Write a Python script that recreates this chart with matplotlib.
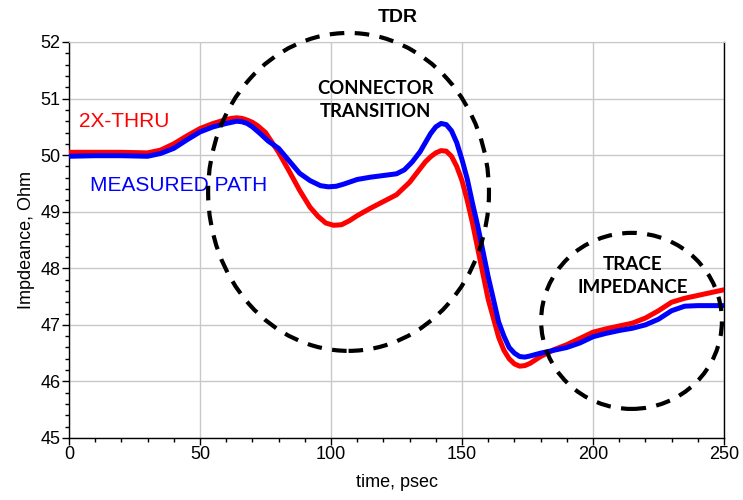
import matplotlib
matplotlib.use("Agg")
import matplotlib.pyplot as plt
from matplotlib.patches import Ellipse
from matplotlib.ticker import MultipleLocator
from matplotlib import font_manager

names = {f.name for f in font_manager.fontManager.ttflist}
narrow = 'Liberation Sans Narrow' if 'Liberation Sans Narrow' in names else 'Liberation Sans'
callout = 'Lato' if 'Lato' in names else 'DejaVu Sans'

t_red = [0, 10, 20, 30, 35, 40, 45, 50, 55, 60, 62, 64, 66, 68, 70, 72, 75, 80, 84, 88, 92,
         95, 98, 101, 104, 107, 110, 115, 120, 125, 130, 133, 136, 138, 140, 142, 144, 146,
         148, 150, 152, 154, 156, 160, 164, 166, 168, 170, 172, 174, 176, 178, 180, 185, 190,
         195, 200, 205, 210, 215, 220, 225, 230, 235, 240, 245, 250]
z_red = [50.05, 50.05, 50.05, 50.04, 50.09, 50.2, 50.34, 50.47, 50.56, 50.63, 50.65, 50.66,
         50.65, 50.62, 50.58, 50.52, 50.4, 50.05, 49.72, 49.38, 49.08, 48.92, 48.8, 48.76,
         48.77, 48.84, 48.93, 49.06, 49.18, 49.3, 49.52, 49.7, 49.88, 49.97, 50.04, 50.08,
         50.07, 49.98, 49.8, 49.55, 49.2, 48.8, 48.35, 47.45, 46.78, 46.55, 46.4, 46.31,
         46.27, 46.28, 46.32, 46.38, 46.44, 46.56, 46.65, 46.76, 46.87, 46.93, 46.98, 47.03,
         47.12, 47.25, 47.4, 47.47, 47.52, 47.57, 47.62]

t_blue = [0, 10, 20, 30, 35, 40, 45, 50, 55, 60, 62, 64, 66, 68, 70, 73, 76, 80, 84, 88, 92,
          96, 99, 102, 105, 110, 115, 120, 125, 128, 131, 134, 136, 138, 140, 142, 144, 146,
          148, 150, 152, 154, 156, 160, 164, 166, 168, 170, 172, 174, 176, 180, 185, 190, 195,
          200, 205, 210, 215, 220, 225, 230, 235, 240, 245, 250]
z_blue = [49.98, 49.99, 49.99, 49.98, 50.03, 50.12, 50.27, 50.41, 50.5, 50.56, 50.58, 50.6,
          50.59, 50.56, 50.5, 50.38, 50.25, 50.12, 49.9, 49.68, 49.55, 49.46, 49.44, 49.45,
          49.49, 49.57, 49.61, 49.64, 49.67, 49.74, 49.88, 50.06, 50.22, 50.38, 50.5, 50.56,
          50.54, 50.43, 50.22, 49.92, 49.58, 49.15, 48.75, 47.85, 47.05, 46.8, 46.6, 46.5,
          46.44, 46.43, 46.45, 46.5, 46.55, 46.6, 46.68, 46.79, 46.85, 46.9, 46.94, 47.0,
          47.1, 47.25, 47.33, 47.34, 47.34, 47.34]

label_red = "2X-THRU"
label_blue = "MEASURED PATH"
title = "TDR"
xlabel = "time, psec"
ylabel = "Impdeance, Ohm"
ann1 = "CONNECTOR\nTRANSITION"
ann2 = "TRACE\nIMPEDANCE"

fig = plt.figure(figsize=(7.43, 5.0), dpi=100)
ax = fig.add_axes([69/743, 62/500, 655/743, 396/500])

ax.plot(t_red, z_red, color='#ff0000', lw=3.6, solid_capstyle='round',
        solid_joinstyle='round', zorder=3)
ax.plot(t_blue, z_blue, color='#0000ff', lw=3.6, solid_capstyle='round',
        solid_joinstyle='round', zorder=4)

ax.set_xlim(0, 250)
ax.set_ylim(45, 52)
ax.xaxis.set_major_locator(MultipleLocator(50))
ax.xaxis.set_minor_locator(MultipleLocator(10))
ax.yaxis.set_major_locator(MultipleLocator(1))
ax.yaxis.set_minor_locator(MultipleLocator(0.2))
ax.grid(True, which='major', color='#c8c8c8', lw=1.0)
ax.set_axisbelow(True)
ax.tick_params(which='major', direction='out', length=5, width=1, labelsize=13, pad=1)
ax.tick_params(which='minor', direction='out', length=3, width=1)
for lab in ax.get_xticklabels() + ax.get_yticklabels():
    lab.set_family(narrow)
ax.spines['top'].set_color('#c8c8c8')
for s in ['left', 'bottom', 'right']:
    ax.spines[s].set_color('black')
    ax.spines[s].set_linewidth(1.0)

ax.set_xlabel(xlabel, fontsize=13, family=narrow, labelpad=8)
ax.set_ylabel(ylabel, fontsize=13, family=narrow, labelpad=4)
fig.text(398/743, 1 - 18/500, title, fontsize=14, family=narrow, weight='bold',
         ha='center', va='center')

ax.text(4, 50.6, label_red, color='#ff0000', fontsize=15, family='Liberation Sans',
        ha='left', va='center')
ax.text(8, 49.46, label_blue, color='#0000ff', fontsize=15, family='Liberation Sans',
        ha='left', va='center')

ax.text(117, 50.97, ann1, fontsize=13.3, family=callout, weight='bold', ha='center',
        va='center', linespacing=1.4)
ax.text(215, 47.86, ann2, fontsize=13.5, family=callout, weight='bold', ha='center',
        va='center', linespacing=1.4)

e1 = Ellipse((106.7, 49.35), 2*53.6, 2*2.81, fill=False, ls=(0, (3.5, 2.5)), lw=3,
             color='black', clip_on=False, zorder=5)
e2 = Ellipse((214.7, 47.07), 2*34.5, 2*1.556, fill=False, ls=(0, (3.5, 2.5)), lw=3,
             color='black', clip_on=False, zorder=5)
ax.add_patch(e1)
ax.add_patch(e2)

fig.savefig("out.png", dpi=100)
